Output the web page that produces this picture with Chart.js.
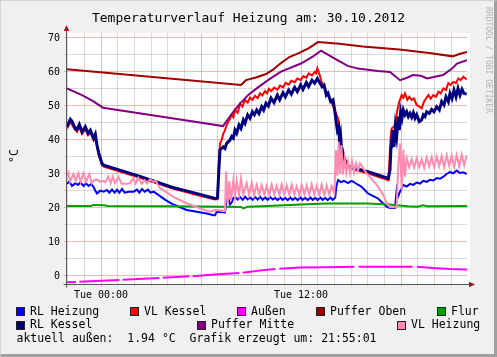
<!DOCTYPE html>
<html><head><meta charset="utf-8">
<script src="https://cdn.jsdelivr.net/npm/chart.js@4.4.1/dist/chart.umd.min.js"></script>
<style>
html,body{margin:0;padding:0;background:#f0f0f0;}
#wrap{position:relative;width:497px;height:357px;background:#f0f0f0;overflow:hidden;}
#frame{position:absolute;left:0;top:0;width:497px;height:357px;box-sizing:border-box;border-top:1px solid #d4d4d4;border-left:1px solid #d4d4d4;border-right:3px solid #a0a0a0;border-bottom:3px solid #a0a0a0;pointer-events:none;}
canvas{position:absolute;left:0;top:0;}
.t{position:absolute;font-family:'DejaVu Sans Mono',monospace;color:#000;white-space:pre;}
.title{left:0;width:497px;text-align:center;top:9.5px;font-size:13px;line-height:15px;}
.leg{font-size:11.5px;line-height:13px;}
.box{position:absolute;width:9px;height:9px;box-sizing:border-box;border:1px solid #222;}
.wm{left:493px;top:7px;font-size:8px;line-height:10px;color:#b4b4b4;transform-origin:0 0;transform:rotate(90deg);}
.ylab{font-size:11.5px;line-height:13px;transform-origin:0 0;transform:rotate(-90deg);left:8px;top:163px;}
</style></head>
<body><div id="wrap">
<canvas id="c" width="497" height="357"></canvas>
<div class="t title">Temperaturverlauf Heizung am: 30.10.2012</div>
<div class="t wm">RRDTOOL / TOBI OETIKER</div>
<div class="t ylab">°C</div>
<div id="legend"></div>
<div class="t leg" style="left:16.5px;top:332.3px;">aktuell außen:  1.94 °C  Grafik erzeugt um: 21:55:01</div>
<div id="frame"></div>
</div>
<script>
// ---- data (hours relative to Tue 00:00, °C) ----
const xMin = -2.04, xMax = 21.96;
const yMin = -2.206, yMax = 71.47;
const xTickHours = [-2,-1,0,1,2,3,4,5,6,7,8,9,10,11,12,13,14,15,16,17,18,19,20,21];
const xLabelHours = [0, 12];
const xLabels = ['Tue 00:00', 'Tue 12:00'];
const yTickValues = [0,5,10,15,20,25,30,35,40,45,50,55,60,65,70];

const seriesNames = ['RL Heizung','VL Kessel','Außen','Puffer Oben','Flur','RL Kessel','Puffer Mitte','VL Heizung'];
const seriesColors = ['#0000ff','#ff0000','#ff00ff','#a00000','#00a000','#000080','#800080','#ff8cb0'];

const rlHeizung = [
[-2.04,27.1],[-1.9,27.8],[-1.74,26.5],[-1.54,27.3],[-1.38,26.8],[-1.24,27.5],[-1.04,26.5],[-0.9,27.3],[-0.74,26.5],[-0.58,27.1],[-0.44,26.1],[-0.34,25.1],[-0.24,24.3],[-0.04,25.1],[0.16,24.8],[0.36,25.3],[0.5,24.5],[0.66,25.4],[0.82,24.5],[0.96,25.4],[1.1,24.5],[1.26,25.6],[1.42,24.5],[1.66,24.8],[1.96,24.8],[2.16,25.4],[2.3,24.5],[2.46,25.6],[2.62,24.8],[2.82,25.4],[2.96,24.5],[3.16,24.8],[3.46,23.8],[3.86,22.4],[4.26,21.2],[5.14,19.4],[6.34,18.4],[6.74,17.9],[6.84,17.9],[6.94,18.9],[7.44,18.7],[7.54,22.5],[7.64,22.9],[7.74,21.0],[7.84,21.6],[7.94,22.9],[8.04,23.3],
[8.2,22.5],[8.35,23.2],[8.5,22.4],[8.65,23.3],[8.8,22.5],[8.95,23.1],[9.1,22.4],[9.25,23.2],[9.4,22.5],[9.55,23.3],[9.7,22.4],[9.85,23.1],[10.0,22.4],[10.15,23.2],[10.3,22.5],[10.45,23.0],[10.6,22.3],[10.75,23.1],[10.9,22.4],[11.05,23.0],[11.2,22.3],[11.35,23.1],[11.5,22.4],[11.65,23.0],[11.8,22.3],[11.95,23.1],[12.1,22.4],[12.25,23.0],[12.4,22.3],[12.55,23.1],[12.7,22.4],[12.85,23.0],[13.0,22.3],[13.15,23.1],[13.3,22.4],[13.45,23.0],[13.6,22.3],[13.75,23.1],[13.9,22.4],[14.05,23.0],
[14.12,26.3],[14.22,28.2],[14.4,27.6],[14.58,28.0],[14.82,27.3],[15.0,27.9],[15.12,27.8],[15.3,27.2],[15.62,26.3],[16.02,24.3],[16.62,22.8],[17.14,20.4],[17.34,20.0],[17.64,20.0],[17.74,25.3],[17.82,23.3],[17.94,24.8],[18.14,26.8],[18.34,26.3],[18.54,27.1],[18.74,26.8],[18.94,27.5],[19.14,27.2],[19.34,28.0],[19.54,27.7],[19.74,28.3],[19.94,28.1],[20.14,28.8],[20.34,28.6],[20.54,29.2],[20.74,30.0],[20.94,30.6],[21.14,30.2],[21.34,31.0],[21.54,30.3],[21.74,30.5],[21.94,30.0]];

const vlKessel = [
[-2.04,43.4],[-1.84,45.3],[-1.64,43.7],[-1.44,42.4],[-1.30,43.9],[-1.14,41.8],[-0.94,43.2],[-0.78,41.4],[-0.64,42.2],[-0.44,39.9],[-0.34,41.0],[-0.14,35.6],[0.06,32.6],[0.16,32.2],[2.34,28.9],[4.26,25.8],[5.94,23.6],[6.84,22.5],[6.99,22.6],
[7.08,34.0],[7.14,39.0],[7.24,40.0],[7.34,41.9],[7.44,42.9],[7.54,44.4],[7.64,45.4],[7.74,46.2],[7.84,47.4],[7.94,46.7],[8.04,48.8],[8.20,48.0],[8.34,50.6],[8.48,49.8],[8.64,51.8],[8.80,51.0],[8.94,52.5],[9.08,51.8],[9.24,53.0],[9.40,52.3],[9.54,53.7],[9.68,53.1],[9.84,54.4],[9.96,53.7],[10.08,55.0],[10.22,54.4],[10.38,55.4],[10.58,54.8],[10.74,56.0],[10.92,55.5],[11.08,56.8],[11.26,56.3],[11.42,57.4],[11.62,57.0],[11.78,58.1],[11.98,57.6],[12.14,58.8],[12.32,58.3],[12.46,59.6],[12.66,59.0],[12.82,60.0],[12.90,59.6],[12.98,61.1],[13.12,59.1],[13.26,56.7],[13.42,55.2],[13.62,53.2],[13.82,51.3],[14.02,48.8],[14.22,46.4],[14.32,42.9],[14.42,38.0],[14.58,35.1],[14.82,32.6],[15.22,31.2],[16.02,30.2],[16.62,29.2],[17.24,28.2],
[17.30,33.1],[17.38,40.9],[17.44,43.4],[17.58,43.9],[17.70,45.9],[17.78,48.8],[17.90,51.3],[18.04,53.2],[18.14,52.4],[18.24,53.7],[18.38,51.8],[18.50,52.7],[18.64,51.8],[18.78,52.2],[18.94,50.3],[19.10,49.8],[19.24,49.3],[19.38,51.3],[19.50,52.2],[19.64,53.2],[19.78,52.2],[19.94,53.2],[20.10,52.7],[20.24,54.2],[20.38,53.7],[20.54,55.2],[20.70,54.7],[20.84,56.7],[20.98,56.2],[21.14,57.1],[21.30,56.8],[21.44,58.1],[21.58,57.6],[21.74,58.6],[21.94,57.8]];

const aussen = [
[-2.04,-1.85],[-1.5,-1.75],[-1.4,null],[-1.3,-1.7],[0,-1.4],[1.1,-1.15],[1.2,null],[1.3,-1.1],[3.5,-0.6],[3.6,null],[3.7,-0.55],[4.26,-0.4],[5.3,-0.1],[5.4,null],[5.5,-0.05],[7.0,0.5],[8.3,0.9],[8.4,null],[8.5,0.95],[9.84,1.8],[10.45,2.05],[10.55,null],[10.7,2.15],[12.0,2.5],[13.5,2.6],[15.2,2.7],[15.3,null],[15.45,2.7],[16.62,2.75],[18.7,2.75],[18.8,null],[18.95,2.7],[19.5,2.5],[20.1,2.3],[20.94,2.05],[21.96,1.94]];

const pufferOben = [
[-2.04,60.8],[8.4,56.2],[8.7,57.6],[9.3,58.4],[9.9,59.4],[10.3,60.6],[10.74,62.4],[11.3,64.4],[11.9,65.6],[12.5,67.1],[13.02,68.8],[14.3,68.3],[15.7,67.5],[17.9,66.6],[19.7,65.6],[21.1,64.6],[21.5,65.3],[21.96,65.9]];

const flur = [
[-2.04,20.6],[-0.6,20.6],[-0.45,20.9],[0.2,20.8],[0.4,20.6],[4.0,20.5],[7.5,20.4],[8.4,20.3],[8.55,19.9],[8.8,20.4],[10.0,20.6],[12.0,21.0],[13.5,21.3],[16.0,21.3],[17.3,21.0],[17.6,20.9],[18.4,20.5],[19.0,20.4],[19.3,20.8],[19.6,20.5],[21.96,20.6]];

const rlKessel = [
[-2.04,43.9],[-1.84,46.1],[-1.74,45.5],[-1.64,44.4],[-1.53,43.2],[-1.44,43.1],[-1.30,44.6],[-1.14,42.4],[-0.94,43.9],[-0.78,42.0],[-0.64,42.9],[-0.44,40.5],[-0.34,41.7],[-0.24,38.5],[-0.14,36.3],[0.06,33.1],[0.16,32.6],
[2.34,29.3],[4.26,26.1],[5.94,24.0],[6.84,22.8],[6.99,23.0],
[7.08,32.0],[7.14,37.1],[7.34,38.0],[7.44,37.5],[7.54,39.0],[7.74,40.0],[7.84,41.0],[7.94,40.5],[8.04,42.9],[8.14,42.0],[8.28,44.4],[8.40,43.4],[8.54,45.9],[8.64,44.9],[8.80,47.4],[8.94,46.4],[9.08,48.3],[9.20,47.4],[9.34,48.8],[9.48,47.8],[9.64,49.8],[9.76,48.8],[9.90,50.8],[10.04,50.0],[10.20,52.3],[10.38,51.0],[10.58,53.2],[10.72,51.8],[10.92,53.9],[11.06,52.7],[11.26,54.7],[11.42,53.5],[11.62,55.5],[11.78,54.2],[11.98,56.2],[12.12,54.9],[12.32,56.9],[12.46,55.7],[12.66,57.6],[12.82,56.7],[12.98,58.1],[13.12,56.9],[13.26,55.7],[13.38,56.2],[13.52,53.2],[13.62,53.8],[13.78,51.3],[13.92,51.8],[14.02,48.8],[14.12,44.9],[14.18,42.9],[14.26,43.9],[14.32,39.0],[14.38,41.0],[14.46,35.1],[14.52,36.1],[14.62,33.6],[14.82,32.2],[15.22,31.7],[16.02,30.7],[16.62,29.7],[17.24,28.7],
[17.34,31.2],[17.40,38.0],[17.44,39.0],[17.50,42.9],[17.58,38.0],[17.66,43.9],[17.74,41.0],[17.84,46.9],[17.90,42.9],[17.98,48.3],[18.06,46.4],[18.14,48.8],[18.24,47.4],[18.34,48.3],[18.44,46.9],[18.54,47.8],[18.64,46.7],[18.74,48.0],[18.84,46.4],[18.94,47.4],[19.10,45.4],[19.24,45.9],[19.34,47.4],[19.44,46.9],[19.54,48.3],[19.70,47.8],[19.84,49.0],[19.98,48.3],[20.14,49.8],[20.30,48.8],[20.44,51.3],[20.58,50.3],[20.70,52.7],[20.84,51.3],[20.94,53.7],[21.06,52.2],[21.18,54.7],[21.30,52.7],[21.42,55.2],[21.54,53.2],[21.66,54.9],[21.78,53.7],[21.94,53.5]];

const pufferMitte = [
[-2.04,55.2],[-1.14,53.2],[-0.5,51.5],[0.12,49.5],[4.26,46.4],[7.32,44.1],[7.86,47.8],[8.3,50.5],[8.82,53.2],[9.4,55.4],[10.02,57.6],[10.8,60.1],[12.0,62.5],[12.7,64.5],[13.2,66.3],[14.0,64.0],[14.8,61.8],[15.42,61.0],[16.62,60.3],[17.34,60.0],[17.94,57.6],[18.36,58.3],[18.72,59.1],[19.2,58.9],[19.56,58.1],[20.52,59.1],[21.06,61.0],[21.36,62.5],[21.96,63.5]];

const vlHeizung = [
[-2.04,29.5],[-1.96,30.4],[-1.86,27.7],[-1.66,30.0],[-1.52,28.0],[-1.36,30.2],[-1.22,27.7],[-1.06,30.2],[-0.9,27.7],[-0.7,30.0],[-0.56,27.3],[-0.42,28.2],[-0.26,28.4],[-0.06,27.7],[0.12,28.0],[0.26,27.6],[0.44,29.2],[0.58,27.3],[0.70,29.2],[0.84,27.3],[1.04,29.2],[1.24,27.1],[1.54,27.1],[1.74,27.3],[1.94,28.7],[2.07,27.2],[2.24,28.9],[2.44,27.1],[2.61,28.2],[2.76,27.2],[2.94,28.4],[3.14,27.7],[3.27,28.0],[3.54,25.9],[4.34,23.3],[5.14,21.4],[5.94,19.9],[6.54,18.9],[6.84,19.4],[7.44,19.1],
[7.50,30.7],[7.60,21.4],[7.70,28.0],[7.80,22.2],[7.94,28.2],[8.04,23.4],[8.14,28.0],[8.28,23.8],[8.40,28.7],[8.54,24.0],[8.74,27.3],[8.88,23.8],[9.04,27.5],[9.18,23.8],[9.34,26.8],[9.50,23.9],[9.64,26.8],[9.80,24.0],[9.94,26.5],[10.10,23.8],[10.24,26.9],[10.40,24.0],[10.54,26.5],[10.70,23.8],[10.84,27.0],[11.00,24.0],[11.14,26.6],[11.30,23.9],[11.44,26.9],[11.60,24.0],[11.74,26.4],[11.90,23.8],[12.04,26.8],[12.20,24.0],[12.34,26.6],[12.50,23.9],[12.64,27.0],[12.80,24.0],[12.94,26.5],[13.10,23.8],[13.24,26.9],[13.40,24.0],[13.54,26.6],[13.70,23.9],[13.84,26.5],[14.00,24.4],
[14.10,37.0],[14.18,29.5],[14.26,39.5],[14.34,30.0],[14.42,38.5],[14.52,29.8],[14.62,34.5],[14.72,30.5],[14.82,33.6],[14.94,30.2],[15.06,33.8],[15.18,30.5],[15.30,33.2],[15.42,31.0],[15.54,33.1],[15.94,30.2],[16.54,26.8],[16.94,23.8],[17.14,21.4],[17.34,20.2],[17.74,20.2],
[17.84,33.1],[17.94,39.0],[18.04,25.3],[18.14,37.1],[18.24,29.2],[18.34,34.6],[18.49,32.0],[18.64,34.4],[18.79,31.9],[18.94,34.6],[19.09,32.1],[19.24,34.3],[19.39,31.8],[19.54,34.8],[19.69,32.2],[19.84,35.0],[19.99,32.0],[20.14,35.1],[20.29,32.3],[20.44,35.3],[20.59,32.0],[20.74,35.5],[20.89,32.4],[21.04,35.4],[21.19,32.1],[21.34,35.6],[21.49,32.2],[21.64,35.7],[21.79,32.6],[21.94,35.5]];

const seriesData = [rlHeizung, vlKessel, aussen, pufferOben, flur, rlKessel, pufferMitte, vlHeizung];
const seriesWidths = [2, 2, 2, 2, 2, 3, 2, 2];

// ---- legend (layout) ----
const legendPos = [[16,0],[130,0],[237,0],[316,0],[437,0],[16,1],[197,1],[397,1]];
const legRowBox = [307, 320.5];
const legRowText = [304.5, 318.2];
const legEl = document.getElementById('legend');
seriesNames.forEach((n, i) => {
  const [lx, row] = legendPos[i];
  const b = document.createElement('div');
  b.className = 'box';
  b.style.left = lx + 'px'; b.style.top = legRowBox[row] + 'px';
  b.style.background = seriesColors[i];
  legEl.appendChild(b);
  const t = document.createElement('div');
  t.className = 't leg';
  t.style.left = (lx + 14) + 'px'; t.style.top = legRowText[row] + 'px';
  t.textContent = n;
  legEl.appendChild(t);
});

// ---- chart ----
const MAJOR = 'rgba(232,80,80,0.42)';
const MINOR = 'rgba(140,140,140,0.32)';
const AXIS = '#5a5a5a';
const ARROW = '#a01818';

const decor = {
  id: 'decor',
  beforeDraw(chart) {
    const {ctx, chartArea: a} = chart;
    ctx.save();
    ctx.fillStyle = '#ffffff';
    ctx.fillRect(a.left, a.top, a.right - a.left + 3, a.bottom - a.top);
    ctx.restore();
  },
  afterDatasetsDraw(chart) {
    const {ctx, chartArea: a} = chart;
    ctx.save();
    ctx.strokeStyle = AXIS; ctx.lineWidth = 1;
    const x0 = Math.round(a.left) - 0.5, y0 = Math.round(a.bottom) + 0.5;
    ctx.beginPath();
    ctx.moveTo(x0, y0 + 3); ctx.lineTo(x0, a.top - 4);
    ctx.moveTo(x0 - 3, y0); ctx.lineTo(a.right + 4, y0);
    ctx.stroke();
    ctx.fillStyle = ARROW;
    ctx.beginPath();
    ctx.moveTo(x0, a.top - 8); ctx.lineTo(x0 - 2.8, a.top - 2); ctx.lineTo(x0 + 2.8, a.top - 2); ctx.closePath(); ctx.fill();
    ctx.beginPath();
    ctx.moveTo(a.right + 8, y0); ctx.lineTo(a.right + 2, y0 - 2.8); ctx.lineTo(a.right + 2, y0 + 2.8); ctx.closePath(); ctx.fill();
    ctx.restore();
  }
};

const gridColor = (step) => (c) => (c.tick && Math.abs(c.tick.value % step) < 1e-9) ? MAJOR : MINOR;

new Chart(document.getElementById('c'), {
  type: 'line',
  data: {
    datasets: seriesData.map((d, i) => ({
      label: seriesNames[i],
      data: d.map(p => ({x: p[0], y: p[1]})),
      borderColor: seriesColors[i],
      backgroundColor: seriesColors[i],
      borderWidth: seriesWidths[i],
      pointRadius: 0,
      tension: 0,
      fill: false,
      spanGaps: false,
      order: seriesData.length - i
    }))
  },
  options: {
    responsive: false,
    animation: false,
    events: [],
    devicePixelRatio: 1,
    layout: {padding: {left: 0, top: 33, right: 30, bottom: 53.5}},
    plugins: {legend: {display: false}, tooltip: {enabled: false}, title: {display: false}},
    scales: {
      x: {
        type: 'linear', min: xMin, max: xMax,
        afterBuildTicks: s => { s.ticks = xTickHours.map(v => ({value: v})); },
        afterFit: s => { s.height = 20; },
        border: {display: false},
        grid: {color: gridColor(6), tickColor: gridColor(6), lineWidth: 1, tickLength: 3, drawTicks: true},
        ticks: {
          autoSkip: false, maxRotation: 0, minRotation: 0, padding: 3, color: '#000',
          font: {family: 'DejaVu Sans Mono', size: 10},
          callback: v => { const k = xLabelHours.indexOf(v); return k >= 0 ? xLabels[k] : ''; }
        }
      },
      y: {
        type: 'linear', min: yMin, max: yMax,
        afterBuildTicks: s => { s.ticks = yTickValues.map(v => ({value: v})); },
        afterFit: s => { s.width = 67; },
        border: {display: false},
        grid: {color: gridColor(10), tickColor: gridColor(10), lineWidth: 1, tickLength: 3, drawTicks: true},
        ticks: {
          autoSkip: false, padding: 4, color: '#000',
          font: {family: 'DejaVu Sans Mono', size: 10},
          callback: v => (v % 10 === 0 ? String(v) : '')
        }
      }
    }
  },
  plugins: [decor]
});
</script>
</body></html>
